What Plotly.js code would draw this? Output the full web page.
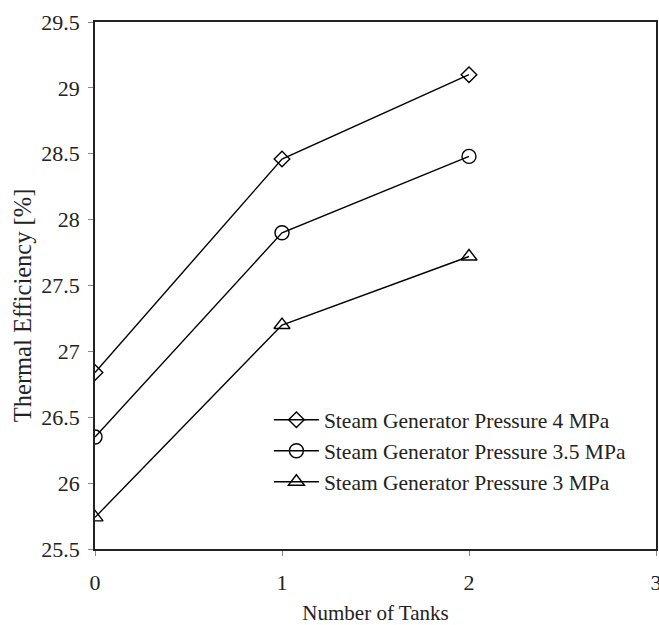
<!DOCTYPE html>
<html>
<head>
<meta charset="utf-8">
<script src="https://cdn.plot.ly/plotly-3.0.1.min.js"></script>
<style>html,body{margin:0;padding:0;background:#fff;}#chart{width:659px;height:625px;}</style>
</head>
<body>
<div id="chart"></div>
<script>
var tanks = [0, 1, 2];
var eff4MPa = [26.84, 28.46, 29.10];
var eff35MPa = [26.35, 27.90, 28.48];
var eff3MPa = [25.74, 27.20, 27.72];
var seriesNames = ["Steam Generator Pressure 4 MPa", "Steam Generator Pressure 3.5 MPa", "Steam Generator Pressure 3 MPa"];
var yTicks = [25.5, 26, 26.5, 27, 27.5, 28, 28.5, 29, 29.5];
var xTicks = [0, 1, 2, 3];

var FONT = "Liberation Serif";
function tr(y, name, sym, size) {
  return {
    x: tanks, y: y, name: name, type: "scatter", mode: "lines+markers",
    line: {color: "#000", width: 1.4},
    marker: {symbol: sym, size: size, color: "#000", line: {color: "#000", width: 1.4}}
  };
}
var data = [
  tr(eff4MPa, seriesNames[0], "diamond-open", 12),
  tr(eff35MPa, seriesNames[1], "circle-open", 14),
  tr(eff3MPa, seriesNames[2], "triangle-up-open", 14)
];
var layout = {
  width: 659, height: 625,
  margin: {l: 95, r: 3, t: 22, b: 76},
  paper_bgcolor: "#fff", plot_bgcolor: "#fff",
  font: {family: FONT, size: 22, color: "#222"},
  showlegend: true,
  legend: {x: 0.31, y: 0.284, xanchor: "left", yanchor: "top", bgcolor: "rgba(0,0,0,0)",
           borderwidth: 0, itemwidth: 45, font: {family: FONT, size: 21.5, color: "#222"}, traceorder: "normal"},
  xaxis: {
    range: [0, 3], tickvals: xTicks, showgrid: false, zeroline: false,
    showline: true, linecolor: "#222", linewidth: 1.5, mirror: true,
    ticks: "outside", ticklen: 5, tickcolor: "#888", tickwidth: 1,
    ticklabelstandoff: 8, ticklabeloverflow: "allow",
    tickfont: {family: FONT, size: 22, color: "#222"},
    title: {text: "Number of Tanks", standoff: 26, font: {family: FONT, size: 21, color: "#222"}}
  },
  yaxis: {
    range: [25.5, 29.5], tickvals: yTicks, showgrid: false, zeroline: false,
    showline: true, linecolor: "#222", linewidth: 1.5, mirror: true,
    ticks: "outside", ticklen: 5, tickcolor: "#888", tickwidth: 1,
    ticklabelstandoff: 4,
    tickfont: {family: FONT, size: 22, color: "#222"}
  },
  annotations: [{
    text: "Thermal Efficiency [%]", textangle: -90, showarrow: false,
    xref: "paper", yref: "paper", x: -0.128, y: 0.463, xanchor: "center", yanchor: "middle",
    font: {family: FONT, size: 24.5, color: "#222"}
  }]
};
Plotly.newPlot("chart", data, layout, {displayModeBar: false});
</script>
</body>
</html>
